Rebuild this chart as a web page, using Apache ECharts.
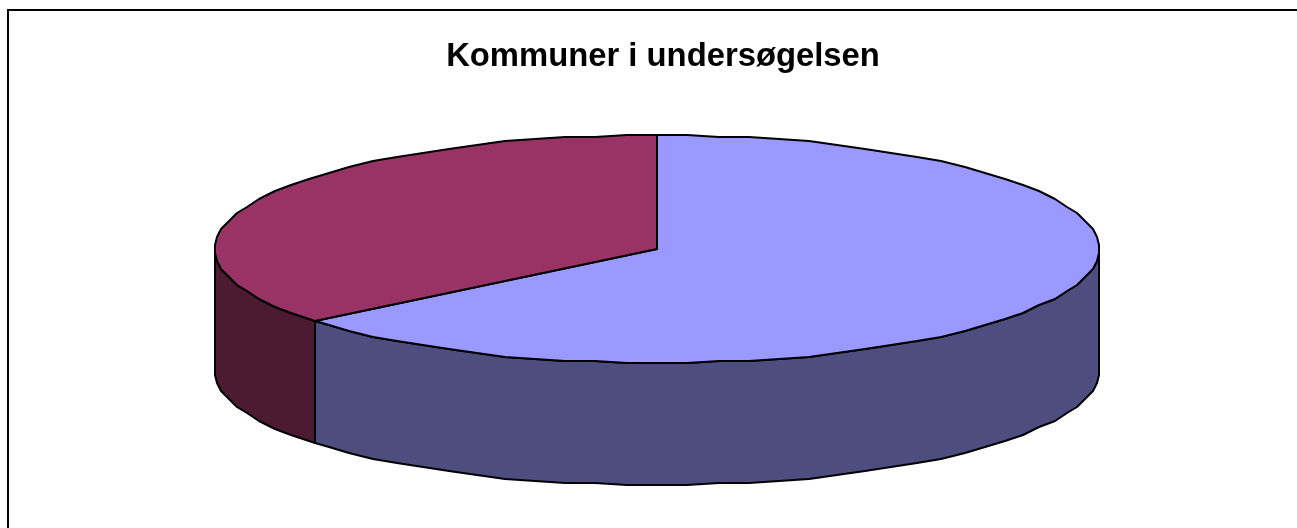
<!DOCTYPE html>
<html>
<head>
<meta charset="utf-8">
<title>Kommuner i undersøgelsen</title>
<style>
  html, body { margin: 0; padding: 0; background: #fff; }
  #chart { width: 1297px; height: 528px; }
</style>
<script src="https://cdn.jsdelivr.net/npm/echarts@6/dist/echarts.min.js"></script>
</head>
<body>
<div id="chart"></div>
<script>
// values, clockwise from 12 o'clock
const sliceValues = [25, 14];
const titleText = "Kommuner i undersøgelsen";

const topColors = ["#9999FF", "#993366"];
const sideColors = ["#4D4D80", "#4D1A33"];

// the tilted disc
const cx = 657, cy = 249, rx = 442, ry = 114, depth = 122;
const gridStep = 2; // the source drew its rim on a coarse grid, so it looks a bit jagged
const arcStep = 4;

const snap = (v) => Math.round(v / gridStep) * gridStep;

function rimPoint(deg, drop) {
  const a = (deg * Math.PI) / 180;
  return [cx + snap(rx * Math.sin(a)), cy + snap(-ry * Math.cos(a)) + drop];
}

// same sample angles for every arc, so the wall and the top share their rim
function rimArc(from, to, drop) {
  const angles = [from];
  for (let d = Math.floor(from / arcStep + 1) * arcStep; d < to; d += arcStep) {
    if (d > from) angles.push(d);
  }
  angles.push(to);
  return angles.map((d) => rimPoint(d, drop));
}

const total = sliceValues.reduce((s, v) => s + v, 0);

function renderSlice(params, api) {
  const before = sliceValues.slice(0, params.dataIndex).reduce((s, v) => s + v, 0);
  const start = (before / total) * 360;
  const end = start + (api.value(0) / total) * 360;
  const lineStyle = { stroke: "#000", lineWidth: 2, lineJoin: "round" };
  const children = [];

  // only the part of the wall between 90 and 270 degrees faces the viewer
  const wallFrom = Math.max(start, 90);
  const wallTo = Math.min(end, 270);
  if (wallTo > wallFrom) {
    const upper = rimArc(wallFrom, wallTo, 0);
    const lower = rimArc(wallFrom, wallTo, depth).reverse();
    children.push({
      type: "polygon",
      shape: { points: upper.concat(lower) },
      style: { fill: sideColors[params.dataIndex], ...lineStyle },
    });
  }

  const top = [[cx, cy]].concat(rimArc(start, end, 0));
  children.push({
    type: "polygon",
    shape: { points: top },
    style: { fill: topColors[params.dataIndex], ...lineStyle },
  });

  return { type: "group", children };
}

const chart = echarts.init(document.getElementById("chart"), null, { renderer: "canvas" });

chart.setOption({
  animation: false,
  backgroundColor: "#fff",
  title: {
    text: titleText,
    left: 658,
    top: 35,
    textAlign: "center",
    textStyle: {
      fontFamily: "Liberation Sans",
      fontWeight: "bold",
      fontSize: 32.8,
      color: "#000",
    },
  },
  graphic: [
    {
      type: "polyline",
      silent: true,
      shape: { points: [[8, 528], [8, 10], [1297, 10]] },
      style: { stroke: "#000", lineWidth: 2, fill: null },
    },
  ],
  series: [
    {
      type: "custom",
      coordinateSystem: "none",
      renderItem: renderSlice,
      data: sliceValues,
    },
  ],
});
</script>
</body>
</html>
